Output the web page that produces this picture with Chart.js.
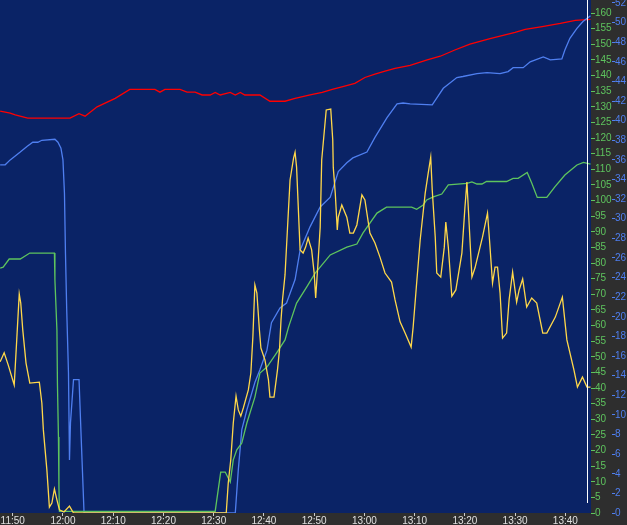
<!DOCTYPE html>
<html lang="en">
<head>
<meta charset="UTF-8" />
<title>Intraday</title>
<script src="https://cdn.jsdelivr.net/npm/chart.js@4/dist/chart.umd.min.js"></script>
<style>
  html, body { margin: 0; padding: 0; background: #2e2e2e; overflow: hidden; }
  canvas { display: block; }
</style>
</head>
<body>
<canvas id="chart" width="627" height="525"></canvas>
<script>
// minutes after 11:50
const redMinutes = [-2.5, -0.5, 0.5, 3, 11.4, 13.2, 14.4, 16.8, 20.4, 23.3, 28.3, 29.3, 30.3, 33.3, 34.7, 36.3, 37.7, 39.3, 40.3, 41.3, 43.3, 44.3, 45.3, 46.2, 49.2, 51.2, 54.2, 56.2, 59.2, 61.6, 63.6, 65.7, 68.1, 70.1, 72.1, 74.1, 76.1, 79.1, 82.5, 85.1, 88, 91, 95, 98, 100, 102, 105.4, 109, 112, 115];
const redValues = [128.6, 128, 127.4, 126.4, 126.4, 127.8, 127, 130, 132.7, 135.6, 135.6, 134.7, 135.6, 135.6, 134.7, 134.7, 133.8, 133.8, 134.6, 133.8, 134.6, 133.8, 134.6, 133.8, 133.8, 131.8, 131.8, 132.7, 133.8, 134.6, 135.6, 136.5, 137.5, 139.4, 140.5, 141.4, 142.3, 143.3, 145, 146.2, 148.2, 150.1, 151.8, 153, 153.8, 154.8, 155.7, 156.7, 157.7, 158];

const blueMinutes = [-2.5, -1.5, -0.5, 1.5, 2.9, 4, 5, 5.8, 8.4, 9, 9.6, 10, 10.3, 10.5, 10.75, 11.1, 11.3, 11.5, 12.1, 13.2, 13.7, 14.2, 44.3, 44.9, 45.6, 46.6, 48.2, 49.2, 50.6, 51.5, 53.2, 54.5, 56.2, 57.2, 59.2, 61.2, 63.2, 64.8, 66.5, 67.7, 70.5, 72.1, 74.5, 76.5, 77.7, 79.1, 83.5, 85.7, 88.4, 89.6, 92.4, 94.4, 97, 98.6, 99.6, 101.6, 103, 105.6, 107, 109.3, 109.9, 110.9, 112.3, 113.5, 115];
const blueValues = [35.5, 35.5, 36, 36.8, 37.4, 37.8, 37.8, 38, 38.1, 37.8, 37.2, 36, 32.6, 26.5, 20.7, 14.3, 5.4, 9.2, 13.6, 13.6, 6.7, 0, 0, 4.4, 8.5, 10.5, 13.3, 14.6, 16.6, 19.4, 20.9, 21.4, 23.8, 26.8, 29.2, 31.2, 32.2, 34.8, 35.7, 36.2, 36.8, 38.3, 40.3, 41.7, 41.8, 41.7, 41.6, 43.3, 44.4, 44.5, 44.8, 44.9, 44.8, 45, 45.4, 45.4, 46, 46.5, 46.2, 46.3, 47.2, 48.4, 49.4, 50.1, 50.7];

const greenMinutes = [-2.5, -1.9, -0.7, 1.5, 3.4, 8.3, 8.4, 8.8, 8.9, 9.1, 9.2, 9.3, 40.3, 40.9, 41.4, 42.3, 43.3, 43.9, 44.6, 45.6, 46.6, 48.2, 49.2, 50.6, 52.5, 54.2, 54.9, 56.5, 58.5, 60.2, 63.2, 66.5, 68.5, 69.7, 72.5, 74.4, 79.4, 80.4, 81.7, 82.4, 83.7, 85.4, 86.7, 90.4, 91.4, 92.4, 93.4, 94.3, 98.3, 99.6, 100.6, 102.4, 103.3, 104.4, 106.3, 107.9, 109.9, 112.3, 113.6, 115];
const greenValues = [78.4, 78.7, 81.3, 81.3, 83.2, 83.2, 74.6, 58.6, 41.6, 24.3, 8.3, 0.5, 0.5, 7.4, 13.1, 13.1, 9.9, 17, 20.2, 22.4, 28.8, 37.1, 44.8, 46.7, 51.2, 55.4, 59.5, 67.2, 72.3, 76.8, 82.6, 85.1, 86.1, 89.6, 96, 97.9, 97.9, 97.2, 98.6, 100.2, 101.2, 102.1, 105, 105.5, 106, 105.3, 105.3, 106.1, 106.1, 107.1, 107.1, 109, 105.6, 101, 101, 104.4, 108.2, 111.4, 112.2, 111.7];

const yellowMinutes = [-2.5, -1.7, -0.9, 0.3, 0.8, 1.3, 1.6, 2, 2.65, 3.4, 5.3, 5.8, 6.1, 6.8, 7.3, 7.8, 8.3, 8.8, 9.3, 10.2, 11.3, 12.1, 42.5, 42.9, 43.4, 43.9, 44.45, 44.9, 45.4, 45.9, 46.9, 47.4, 47.8, 48.2, 48.6, 49.1, 49.4, 50.2, 50.9, 51.2, 52, 52.7, 53.1, 53.4, 53.7, 54.2, 55.2, 55.9, 56.2, 56.5, 57.2, 57.8, 58.3, 58.8, 59.5, 60, 60.3, 60.8, 61.2, 61.5, 62.4, 63.3, 63.7, 63.8, 64.2, 64.6, 64.8, 65.5, 66.5, 67.1, 67.8, 68.5, 69.5, 70.1, 71.1, 72.1, 73.1, 74.1, 75.4, 76.1, 77.1, 78.1, 79.3, 79.7, 80.4, 81.1, 82.1, 82.7, 83.2, 83.5, 84.1, 84.4, 85.2, 85.9, 86.2, 86.7, 87.4, 88.2, 89.4, 90, 90.4, 90.7, 91.4, 92, 93.5, 94.5, 94.9, 95.5, 96, 96.5, 97, 97.5, 98.3, 98.8, 99.5, 100.3, 100.8, 101.5, 102.3, 103.3, 104.3, 105.5, 106.3, 108, 109.4, 110.3, 111.7, 112.4, 113.4, 114.3, 115];
const yellowValues = [48.4, 51.3, 47.4, 41, 55.4, 70.1, 67.2, 58.6, 48, 41.6, 41.9, 35.2, 26.6, 13.8, 1.9, 3.2, 7.7, 4.2, 1, 0.3, 2.2, 0, 0, 9.6, 17, 28.8, 37.4, 33, 31, 33.6, 39.4, 44.8, 56.3, 73, 70.4, 58.6, 52.8, 49, 42.6, 37.1, 37.1, 45.8, 52.2, 61.8, 68.2, 76.2, 106.6, 113.6, 115.5, 110.7, 84.2, 83.2, 85.1, 88, 84.2, 76.8, 68.8, 81, 91.5, 113, 129, 129.3, 119.4, 110.7, 102.4, 90.6, 94.7, 98.6, 94.7, 89.6, 89.6, 92.2, 101.8, 100.2, 89.6, 86.4, 81.9, 76.8, 73.9, 68.2, 61.2, 57.6, 53.1, 59.5, 73.6, 87.4, 102.4, 108.8, 113.9, 103.4, 88.3, 76.8, 75.5, 85.1, 93.1, 85.1, 69.4, 71.4, 83.2, 97.6, 105.9, 97, 75.5, 78.4, 88.3, 96, 87.4, 73.6, 78.7, 78.7, 70.4, 56, 57.6, 68.2, 77.1, 67.5, 71.4, 74.9, 65.9, 68.8, 67.2, 57.6, 57.6, 62.7, 69.1, 55.4, 45.8, 40.3, 43.5, 40.3, 40.3];

const cursorMinute = 114.3;

function points(minutes, values) {
  return minutes.map((m, i) => ({ x: m, y: values[i] }));
}

function timeLabel(m) {
  const total = 11 * 60 + 50 + Math.round(m);
  const h = Math.floor(total / 60);
  const mm = total % 60;
  return h + ":" + (mm < 10 ? "0" : "") + mm;
}

const font = { family: "Liberation Sans, Arial, sans-serif", size: 10, lineHeight: 1 };

const background = {
  id: "background",
  beforeDraw(chart) {
    const { ctx, chartArea: a } = chart;
    ctx.save();
    ctx.fillStyle = "#2e2e2e";
    ctx.fillRect(0, 0, chart.width, chart.height);
    ctx.fillStyle = "#0a2366";
    ctx.fillRect(a.left, a.top, a.right - a.left, a.bottom - a.top);
    ctx.restore();
  },
};

const cursor = {
  id: "cursor",
  afterDatasetsDraw(chart) {
    const { ctx, chartArea: a } = chart;
    const x = Math.round(chart.scales.x.getPixelForValue(cursorMinute)) + 0.5;
    ctx.save();
    ctx.strokeStyle = "#ffffff";
    ctx.lineWidth = 1;
    ctx.beginPath();
    ctx.moveTo(x, a.top);
    ctx.lineTo(x, a.bottom - 10);
    ctx.stroke();
    ctx.restore();
  },
};

function line(minutes, values, color, axis) {
  return {
    data: points(minutes, values),
    borderColor: color,
    borderWidth: 1.3,
    pointRadius: 0,
    tension: 0,
    fill: false,
    yAxisID: axis,
  };
}

new Chart(document.getElementById("chart"), {
  type: "line",
  data: {
    datasets: [
      line(yellowMinutes, yellowValues, "#ffd84a", "y"),
      line(greenMinutes, greenValues, "#5ec45e", "y"),
      line(blueMinutes, blueValues, "#4f7ff0", "y2"),
      line(redMinutes, redValues, "#ff0000", "y"),
    ],
  },
  options: {
    responsive: false,
    animation: false,
    devicePixelRatio: 1,
    layout: { padding: 0 },
    plugins: { legend: { display: false }, tooltip: { enabled: false } },
    scales: {
      x: {
        type: "linear",
        position: "bottom",
        min: -2.53,
        max: 115.1,
        ticks: {
          stepSize: 10,
          includeBounds: false,
          autoSkip: false,
          maxRotation: 0,
          color: "#e0e0e0",
          font: font,
          padding: 0,
          callback: (v) => timeLabel(v),
        },
        grid: { drawOnChartArea: false, drawTicks: true, tickLength: 3, tickColor: "#cccccc" },
        border: { display: false },
        afterFit(s) {
          s.height = 12;
          s.paddingLeft = 0;
          s.paddingRight = 0;
        },
      },
      y: {
        position: "right",
        weight: 0,
        min: 0,
        max: 164.2,
        ticks: { stepSize: 5, includeBounds: false, color: "#5ec45e", font: font, padding: 0 },
        grid: { drawOnChartArea: false, drawTicks: true, tickLength: 4, tickColor: "#5ec45e" },
        border: { display: false },
        afterFit(s) {
          s.width = 21;
          s.paddingTop = 0;
          s.paddingBottom = 0;
        },
      },
      y2: {
        position: "right",
        weight: 1,
        min: 0,
        max: 52.3,
        ticks: { stepSize: 2, includeBounds: false, color: "#4f7ff0", font: font, padding: 0 },
        grid: { drawOnChartArea: false, drawTicks: true, tickLength: 3, tickColor: "#4f7ff0" },
        border: { display: false },
        afterFit(s) {
          s.width = 15;
          s.paddingTop = 0;
          s.paddingBottom = 0;
        },
      },
    },
  },
  plugins: [background, cursor],
});
</script>
</body>
</html>
